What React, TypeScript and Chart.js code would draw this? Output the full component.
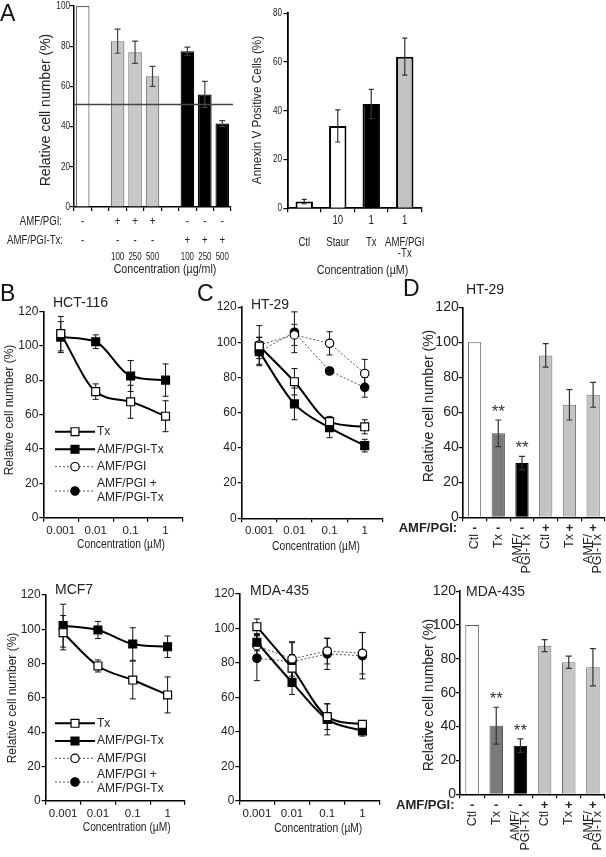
import React, { useEffect, useRef } from 'react';
import { Chart, registerables } from 'chart.js';

Chart.register(...registerables);

const W = 606;
const H = 857;
const FONT = '"Liberation Sans", Arial, Helvetica, sans-serif';

// ---------------- Panel A (left): relative cell number ----------------
const A1_CATS = ['Ctl', 'gap1', 'PGI100', 'PGI250', 'PGI500', 'gap2', 'PTx100', 'PTx250', 'PTx500'];
const A1_VALUES = [100, null, 82.5, 77, 65, null, 77.5, 56, 41.5];
const A1_ERRORS = [0, null, 6, 5.5, 5, null, 2, 6.5, 1.5];
const A1_ROW_PGI = ['-', '', '+', '+', '+', '', '-', '-', '-'];
const A1_ROW_PTX = ['-', '', '-', '-', '-', '', '+', '+', '+'];
const A1_ROW_CONC = ['', '', '100', '250', '500', '', '100', '250', '500'];
const A1_REF_LINE = 51;

// ---------------- Panel A (right): Annexin V ----------------
const A2_CATS = ['Ctl', 'Staur', 'Tx', 'AMF/PGI-Tx'];
const A2_VALUES = [2.8, 33.8, 42.8, 62.2];
const A2_ERRORS = [0.9, 6.6, 6, 7.6];
const A2_ROW_CONC = ['', '10', '1', '1'];
const A2_ROW_NAME = ['Ctl', 'Staur', 'Tx', 'AMF/PGI'];
const A2_ROW_NAME2 = ['', '', '', '-Tx'];

// ---------------- Panels B / C: dose response ----------------
const CONC_LABELS = ['0.001', '0.01', '0.1', '1'];
const LEGEND_LINES = [['Tx'], ['AMF/PGI-Tx'], ['AMF/PGI'], ['AMF/PGI +', 'AMF/PGI-Tx']];

const HCT_TX = [107, 73.3, 67.4, 59];
const HCT_TX_ERR = [10, 4.5, 9.6, 9];
const HCT_PTX = [105, 102.3, 82.4, 80];
const HCT_PTX_ERR = [9, 4, 9, 9.4];

const MCF_TX = [98, 78.6, 70.4, 61.7];
const MCF_TX_ERR = [10, 3.5, 11, 10.5];
const MCF_PTX = [102.1, 99.6, 91.4, 89.8];
const MCF_PTX_ERR = [12.5, 5, 9.5, 6.3];

const HT_TX = [97.9, 77.6, 54.9, 52];
const HT_TX_ERR = [5, 7.5, 3, 4];
const HT_PTX = [94.7, 65, 51.5, 41.3];
const HT_PTX_ERR = [8, 9, 5.7, 3.6];
const HT_PGI = [98.5, 104.2, 99.4, 82.3];
const HT_PGI_ERR = [11, 6, 6.6, 8];
const HT_BOTH = [94.7, 105.7, 83.7, 74.4];
const HT_BOTH_ERR = [4, 11.6, 2, 5.6];

const MDA_TX = [101, 76.9, 48.8, 44.3];
const MDA_TX_ERR = [4.5, 8, 7.5, 2];
const MDA_PTX = [92, 68.7, 47.2, 40.5];
const MDA_PTX_ERR = [5, 7, 9, 3];
const MDA_PGI = [90, 82.3, 86.9, 85.6];
const MDA_PGI_ERR = [6, 10, 7.5, 12];
const MDA_BOTH = [82.7, 80.7, 85.2, 84.2];
const MDA_BOTH_ERR = [13, 11, 9, 13.5];

// ---------------- Panel D: bars ----------------
const D_CATS = [['Ctl'], ['Tx'], ['AMF/', 'PGI-Tx'], ['Ctl'], ['Tx'], ['AMF/', 'PGI-Tx']];
const D_PGI_ROW = ['-', '-', '-', '+', '+', '+'];
const D_STARS = ['', '**', '**', '', '', ''];
const D_HT_VALUES = [100, 48, 31, 92.5, 64.3, 70];
const D_HT_ERRORS = [0, 7.6, 3.8, 6.7, 8.7, 7.1];
const D_MDA_VALUES = [100, 40.5, 28.7, 87.8, 78, 75];
const D_MDA_ERRORS = [0, 10.9, 4, 3.6, 3.6, 11];

// ---------------- styles ----------------
const A1_FILL = ['#ffffff', '#ffffff', '#c8c8c8', '#c8c8c8', '#c8c8c8', '#ffffff', '#000000', '#000000', '#000000'];
const A1_EDGE = ['#666666', '#666666', '#777777', '#777777', '#777777', '#666666', '#000000', '#000000', '#000000'];
const A2_FILL = ['#ffffff', '#ffffff', '#000000', '#c2c2c2'];
const D_FILL = ['#ffffff', '#7a7a7a', '#000000', '#c4c4c4', '#c4c4c4', '#c4c4c4'];
const D_EDGE = ['#555555', '#555555', '#000000', '#707070', '#707070', '#707070'];

type TI = {
  t: string; x: number; y: number; s: number; b?: boolean; a?: CanvasTextAlign;
  r?: boolean; sx?: number; c?: string; bl?: CanvasTextBaseline;
};

function drawT(ctx: CanvasRenderingContext2D, o: TI) {
  ctx.save();
  ctx.font = `${o.b ? 'bold ' : ''}${o.s}px ${FONT}`;
  ctx.fillStyle = o.c || '#222';
  ctx.textAlign = o.a || 'center';
  ctx.textBaseline = o.bl || 'middle';
  ctx.translate(o.x, o.y);
  if (o.r) ctx.rotate(-Math.PI / 2);
  if (o.sx) ctx.scale(o.sx, 1);
  ctx.fillText(o.t, 0, 0);
  ctx.restore();
}

function base(T: number, R: number) {
  return {
    responsive: false,
    animation: false,
    devicePixelRatio: 1,
    events: [],
    layout: { padding: { left: 0, top: T, right: W - R, bottom: 0 } },
    plugins: { legend: { display: false }, tooltip: { enabled: false }, title: { display: false } },
  };
}

const fitY = (L: number) => (s: any) => {
  s.width = L; s.paddingTop = 0; s.paddingBottom = 0; s.paddingLeft = 0; s.paddingRight = 0;
};
const fitX = (B: number) => (s: any) => {
  s.height = H - B; s.paddingLeft = 0; s.paddingRight = 0; s.paddingTop = 0; s.paddingBottom = 0;
};

function yAxis(L: number, max: number, size: number, pad: number, show: boolean, bw = 1.6) {
  return {
    type: 'linear', min: 0, max,
    ticks: { stepSize: 20, display: show, font: { family: FONT, size }, color: '#222', padding: pad },
    grid: { drawOnChartArea: false, drawTicks: true, tickLength: 4, color: '#000', lineWidth: 1.2 },
    border: { display: true, color: '#000', width: bw },
    afterFit: fitY(L),
  };
}

function xCat(B: number, size: number, pad: number, show: boolean, bw = 1.6) {
  return {
    type: 'category', offset: true,
    ticks: { display: show, font: { family: FONT, size }, color: '#222', padding: pad, autoSkip: false, maxRotation: 0, minRotation: 0 },
    grid: { offset: true, drawOnChartArea: false, drawTicks: true, tickLength: 4, color: '#000', lineWidth: 1.2 },
    border: { display: true, color: '#000', width: bw },
    afterFit: fitX(B),
  };
}

let pid = 0;
function errPlugin(errs: (number | null)[][], color: string, cap: number, when: 'before' | 'after', lw: number) {
  const draw = (chart: any) => {
    const ctx = chart.ctx as CanvasRenderingContext2D;
    const ys = chart.scales.y;
    ctx.save();
    ctx.strokeStyle = color;
    ctx.lineWidth = lw;
    ctx.setLineDash([]);
    errs.forEach((arr, di) => {
      const meta = chart.getDatasetMeta(di);
      const data = chart.data.datasets[di].data as (number | null)[];
      arr.forEach((e, i) => {
        const v = data[i];
        if (v == null || !e) return;
        const x = meta.data[i].x;
        const y1 = ys.getPixelForValue(v + e);
        const y2 = ys.getPixelForValue(v - e);
        ctx.beginPath();
        ctx.moveTo(x, y1); ctx.lineTo(x, y2);
        ctx.moveTo(x - cap / 2, y1); ctx.lineTo(x + cap / 2, y1);
        ctx.moveTo(x - cap / 2, y2); ctx.lineTo(x + cap / 2, y2);
        ctx.stroke();
      });
    });
    ctx.restore();
  };
  pid += 1;
  return when === 'before' ? { id: 'err' + pid, beforeDatasetsDraw: draw } : { id: 'err' + pid, afterDatasetsDraw: draw };
}

function overlay(fn: (chart: any, ctx: CanvasRenderingContext2D) => void) {
  pid += 1;
  return { id: 'ov' + pid, afterDraw: (chart: any) => fn(chart, chart.ctx) };
}

function condensedYTicks(ctx: CanvasRenderingContext2D, ys: any, xRight: number, size: number, sx: number) {
  ys.ticks.forEach((tk: any) => drawT(ctx, { t: String(tk.value), x: xRight, y: ys.getPixelForValue(tk.value), s: size, a: 'right', sx }));
}

// ---------------- Panel A builders ----------------
function buildA1() {
  const L = 74, T = 6, R = 231, B = 207;
  return {
    type: 'bar',
    data: {
      labels: A1_CATS,
      datasets: [{ data: A1_VALUES, backgroundColor: A1_FILL, borderColor: A1_EDGE, borderWidth: 1.2, barPercentage: 0.78, categoryPercentage: 1 }],
    },
    options: { ...base(T, R), scales: { x: xCat(B, 10, 0, false, 1.5), y: yAxis(L, 100, 10, 0, false, 1.5) } },
    plugins: [
      errPlugin([A1_ERRORS], '#444', 6, 'after', 1.2),
      overlay((chart, ctx) => {
        const xs = chart.scales.x, ys = chart.scales.y;
        const yl = ys.getPixelForValue(A1_REF_LINE);
        ctx.save();
        ctx.strokeStyle = '#444';
        ctx.lineWidth = 1.5;
        ctx.beginPath();
        ctx.moveTo(chart.chartArea.left, yl);
        ctx.lineTo(chart.chartArea.right + 2, yl);
        ctx.stroke();
        ctx.restore();
        condensedYTicks(ctx, ys, L - 4, 10.5, 0.78);
        drawT(ctx, { t: 'Relative cell number (%)', x: 46, y: 110, s: 14, r: true });
        drawT(ctx, { t: 'AMF/PGI:', x: 62, y: 222, s: 12, a: 'right', sx: 0.8 });
        drawT(ctx, { t: 'AMF/PGI-Tx:', x: 63, y: 241, s: 12, a: 'right', sx: 0.8 });
        A1_CATS.forEach((_, i) => {
          const x = xs.getPixelForValue(i);
          drawT(ctx, { t: A1_ROW_PGI[i], x, y: 222, s: 12, sx: 0.8 });
          drawT(ctx, { t: A1_ROW_PTX[i], x, y: 241, s: 12, sx: 0.8 });
          drawT(ctx, { t: A1_ROW_CONC[i], x, y: 257, s: 11, sx: 0.72 });
        });
        drawT(ctx, { t: 'Concentration (µg/ml)', x: 165, y: 269, s: 13, sx: 0.82 });
      }),
    ],
  };
}

function buildA2() {
  const L = 287.5, T = 13.3, R = 421.5, B = 208.3;
  return {
    type: 'bar',
    data: {
      labels: A2_CATS,
      datasets: [{ data: A2_VALUES, backgroundColor: A2_FILL, borderColor: '#000', borderWidth: 2, barPercentage: 0.52, categoryPercentage: 1 }],
    },
    options: { ...base(T, R), scales: { x: xCat(B, 10, 0, false, 1.8), y: yAxis(L, 80, 10, 0, false, 1.8) } },
    plugins: [
      errPlugin([A2_ERRORS], '#333', 5, 'after', 1.2),
      overlay((chart, ctx) => {
        const xs = chart.scales.x, ys = chart.scales.y;
        condensedYTicks(ctx, ys, L - 5.5, 10.5, 0.78);
        drawT(ctx, { t: 'Annexin V Positive Cells (%)', x: 257, y: 110, s: 13, r: true, sx: 0.9 });
        A2_CATS.forEach((_, i) => {
          const x = xs.getPixelForValue(i);
          drawT(ctx, { t: A2_ROW_CONC[i], x, y: 221, s: 12, sx: 0.8 });
          drawT(ctx, { t: A2_ROW_NAME[i], x, y: 243, s: 12, sx: 0.8 });
          drawT(ctx, { t: A2_ROW_NAME2[i], x, y: 253.5, s: 12, sx: 0.8 });
        });
        drawT(ctx, { t: 'Concentration (µM)', x: 362.5, y: 270, s: 13, sx: 0.82 });
      }),
    ],
  };
}

// ---------------- Panels B / C builders ----------------
function lineDataset(data: number[], style: number) {
  const solid = style < 2;
  return {
    data,
    borderColor: solid ? '#000' : '#555',
    borderWidth: solid ? 2 : 1,
    borderDash: solid ? [] : [2, 2],
    cubicInterpolationMode: solid ? 'monotone' : 'default',
    tension: 0,
    fill: false,
    pointStyle: solid ? 'rect' : 'circle',
    pointRadius: solid ? 5.6 : 4.2,
    pointBackgroundColor: style === 0 || style === 2 ? '#fff' : '#000',
    pointBorderColor: '#000',
    pointBorderWidth: 1.2,
  };
}

function drawMarker(ctx: CanvasRenderingContext2D, x: number, y: number, style: number) {
  ctx.save();
  ctx.setLineDash([]);
  ctx.lineWidth = 1.2;
  ctx.strokeStyle = '#000';
  ctx.fillStyle = style === 0 || style === 2 ? '#fff' : '#000';
  ctx.beginPath();
  if (style < 2) {
    const s = 5.6 * Math.SQRT1_2;
    ctx.rect(x - s, y - s, 2 * s, 2 * s);
  } else {
    ctx.arc(x, y, 4.2, 0, Math.PI * 2);
  }
  ctx.fill();
  ctx.stroke();
  ctx.restore();
}

function drawLegend(ctx: CanvasRenderingContext2D, x1: number, x2: number, tx: number, ys: number[]) {
  LEGEND_LINES.forEach((lines, i) => {
    const y = ys[i];
    const solid = i < 2;
    ctx.save();
    ctx.strokeStyle = solid ? '#000' : '#555';
    ctx.lineWidth = solid ? 2 : 1;
    ctx.setLineDash(solid ? [] : [2, 2]);
    ctx.beginPath();
    ctx.moveTo(x1, y);
    ctx.lineTo(x2, y);
    ctx.stroke();
    ctx.restore();
    drawMarker(ctx, (x1 + x2) / 2, y, i);
    lines.forEach((ln, j) => drawT(ctx, { t: ln, x: tx, y: y + (j - (lines.length - 1) / 2) * 14.3, s: 12, a: 'left' }));
  });
}

type LineCfg = {
  L: number; T: number; R: number; B: number;
  series: { data: number[]; err: number[]; style: number }[];
  texts: TI[];
  legendYs?: number[];
};

function lineChart(c: LineCfg) {
  return {
    type: 'line',
    data: { labels: CONC_LABELS, datasets: c.series.map((s) => lineDataset(s.data, s.style)) },
    options: {
      ...base(c.T, c.R),
      scales: { x: xCat(c.B, 11.5, 2, true), y: yAxis(c.L, 120, 12, 1, true) },
    },
    plugins: [
      errPlugin(c.series.map((s) => s.err), '#111', 6, 'before', 1),
      overlay((chart, ctx) => {
        if (c.legendYs) drawLegend(ctx, 55, 95, 97, c.legendYs);
        c.texts.forEach((t) => drawT(ctx, t));
      }),
    ],
  };
}

function buildB1() {
  return lineChart({
    L: 43.3, T: 311.3, R: 183, B: 517.7,
    series: [
      { data: HCT_TX, err: HCT_TX_ERR, style: 0 },
      { data: HCT_PTX, err: HCT_PTX_ERR, style: 1 },
    ],
    texts: [
      { t: 'HCT-116', x: 53, y: 303, s: 14, a: 'left' },
      { t: 'Relative cell number (%)', x: 10, y: 410, s: 12, r: true },
      { t: 'Concentration (µM)', x: 121, y: 545, s: 12.5, sx: 0.82 },
    ],
    legendYs: [431.7, 449.3, 466.7, 491],
  });
}

function buildB2() {
  return lineChart({
    L: 45.7, T: 595, R: 185, B: 800.7,
    series: [
      { data: MCF_TX, err: MCF_TX_ERR, style: 0 },
      { data: MCF_PTX, err: MCF_PTX_ERR, style: 1 },
    ],
    texts: [
      { t: 'MCF7', x: 55, y: 590, s: 14, a: 'left' },
      { t: 'Relative cell number (%)', x: 12.7, y: 698, s: 12, r: true },
      { t: 'Concentration (µM)', x: 126.7, y: 828, s: 12.5, sx: 0.82 },
    ],
    legendYs: [723.3, 741, 758.3, 782],
  });
}

function buildC1() {
  return lineChart({
    L: 241.7, T: 307.1, R: 382.3, B: 518.3,
    series: [
      { data: HT_TX, err: HT_TX_ERR, style: 0 },
      { data: HT_PTX, err: HT_PTX_ERR, style: 1 },
      { data: HT_PGI, err: HT_PGI_ERR, style: 2 },
      { data: HT_BOTH, err: HT_BOTH_ERR, style: 3 },
    ],
    texts: [
      { t: 'HT-29', x: 251, y: 305, s: 14, a: 'left' },
      { t: 'Concentration (µM)', x: 316, y: 546.7, s: 12.5, sx: 0.82 },
    ],
  });
}

function buildC2() {
  return lineChart({
    L: 239.3, T: 594, R: 380, B: 800.7,
    series: [
      { data: MDA_TX, err: MDA_TX_ERR, style: 0 },
      { data: MDA_PTX, err: MDA_PTX_ERR, style: 1 },
      { data: MDA_PGI, err: MDA_PGI_ERR, style: 2 },
      { data: MDA_BOTH, err: MDA_BOTH_ERR, style: 3 },
    ],
    texts: [
      { t: 'MDA-435', x: 250, y: 591, s: 14, a: 'left' },
      { t: 'Concentration (µM)', x: 318.3, y: 828.3, s: 12.5, sx: 0.82 },
    ],
  });
}

// ---------------- Panel D builders ----------------
function dChart(L: number, T: number, R: number, B: number, values: number[], errors: number[], title: string, titleX: number, titleY: number, yTitleY: number) {
  return {
    type: 'bar',
    data: {
      labels: D_CATS.map((c) => c.join(' ')),
      datasets: [{ data: values, backgroundColor: D_FILL, borderColor: D_EDGE, borderWidth: 1, barPercentage: 0.56, categoryPercentage: 1 }],
    },
    options: { ...base(T, R), scales: { x: xCat(B, 12, 0, false), y: yAxis(L, 120, 14, 0, true) } },
    plugins: [
      errPlugin([errors], '#333', 6, 'after', 1.2),
      overlay((chart, ctx) => {
        const xs = chart.scales.x, ys = chart.scales.y;
        const rowY = B + 10.8;
        const labTop = B + 16.7;
        drawT(ctx, { t: 'AMF/PGI:', x: L - 5.5, y: rowY, s: 13, b: true, a: 'right' });
        D_CATS.forEach((lines, i) => {
          const x = xs.getPixelForValue(i);
          drawT(ctx, { t: D_PGI_ROW[i], x, y: rowY, s: 13, b: true });
          lines.forEach((ln, j) => drawT(ctx, { t: ln, x: x + (j - (lines.length - 1) / 2) * 9.5, y: labTop, s: 12.5, r: true, a: 'right' }));
          if (D_STARS[i]) {
            const top = ys.getPixelForValue(values[i] + errors[i]);
            drawT(ctx, { t: D_STARS[i], x, y: top - 13 + 0.57 * 17, s: 17, bl: 'alphabetic', c: '#333' });
          }
        });
        drawT(ctx, { t: title, x: titleX, y: titleY, s: 14, a: 'left' });
        drawT(ctx, { t: 'Relative cell number (%)', x: 429.3, y: yTitleY, s: 14, r: true });
      }),
    ],
  };
}

function buildD1() {
  return dChart(462.7, 307.3, 605, 517.3, D_HT_VALUES, D_HT_ERRORS, 'HT-29', 466, 290, 406);
}

function buildD2() {
  return dChart(460, 591.1, 605, 794.3, D_MDA_VALUES, D_MDA_ERRORS, 'MDA-435', 466, 591.7, 695);
}

const BUILDERS = [buildA1, buildA2, buildB1, buildB2, buildC1, buildC2, buildD1, buildD2];

const letterStyle = (left: number, top: number): React.CSSProperties => ({
  position: 'absolute', left, top, fontFamily: FONT, fontSize: 23, lineHeight: '23px', color: '#111',
});

export default function App() {
  const refs = useRef<(HTMLCanvasElement | null)[]>([]);
  useEffect(() => {
    Chart.defaults.font.family = FONT;
    const charts = BUILDERS.map((b, i) => new Chart(refs.current[i] as HTMLCanvasElement, b() as any));
    return () => charts.forEach((c) => c.destroy());
  }, []);
  return (
    <div style={{ position: 'absolute', left: 0, top: 0, width: W, height: H, background: '#fff', overflow: 'hidden' }}>
      {BUILDERS.map((_, i) => (
        <canvas
          key={i}
          ref={(el) => { refs.current[i] = el; }}
          width={W}
          height={H}
          style={{ position: 'absolute', left: 0, top: 0, width: W, height: H }}
        />
      ))}
      <span style={letterStyle(0, 2)}>A</span>
      <span style={letterStyle(0, 282)}>B</span>
      <span style={letterStyle(197, 282)}>C</span>
      <span style={letterStyle(403, 277)}>D</span>
    </div>
  );
}
